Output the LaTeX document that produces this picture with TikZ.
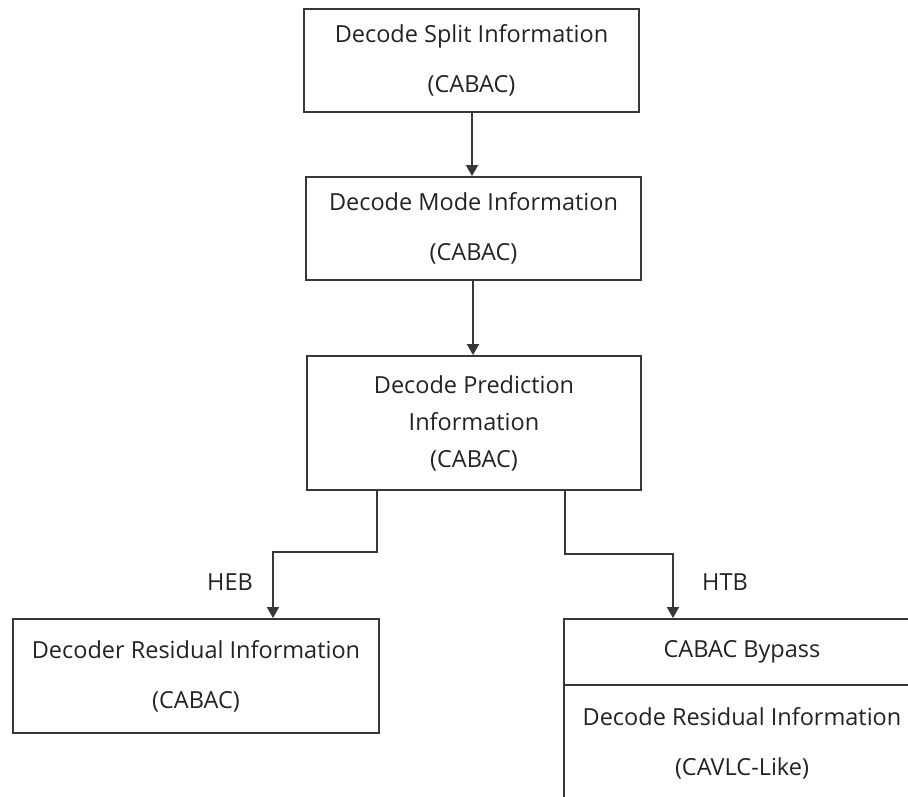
\documentclass[tikz,border=0pt]{standalone}
\usepackage{fontspec}
\setmainfont{Open Sans}
\usetikzlibrary{arrows.meta}
\definecolor{lncol}{RGB}{55,55,55}
\definecolor{txcol}{RGB}{35,35,35}
\tikzset{
  box/.style={draw=lncol, line width=1.8pt, rectangle, inner sep=0pt, align=center, text=txcol,
    font=\fontsize{23.5}{50}\selectfont},
  lbl/.style={inner sep=0pt, text=txcol, font=\fontsize{23.5}{28}\selectfont},
  arr/.style={draw=lncol, line width=1.8pt, -{Triangle[length=11pt,width=12pt]}},
  conn/.style={draw=lncol, line width=1.8pt}
}
\begin{document}
\begin{tikzpicture}[x=1pt,y=-1pt]
\useasboundingbox (0,0) rectangle (908,796);
\fill[white] (0,0) rectangle (908,796);
\clip (0,0) rectangle (908,796);

\node[box, minimum width=335pt, minimum height=103pt] (b1) at (471.5,60.5) {Decode Split Information\\(CABAC)};
\node[box, minimum width=335pt, minimum height=103pt] (b2) at (473.5,228.5) {Decode Mode Information\\(CABAC)};
\node[box, minimum width=334pt, minimum height=134pt, font=\fontsize{23.5}{37}\selectfont] (b3) at (474,423) {Decode Prediction\\Information\\(CABAC)};
\node[box, minimum width=366pt, minimum height=114pt] (b4) at (196,676) {Decoder Residual Information\\(CABAC)};
\node[box, minimum width=356pt, minimum height=66pt] (b5a) at (742,652) {CABAC Bypass};
\node[box, minimum width=356pt, minimum height=116pt] (b5b) at (742,743) {Decode Residual Information\\(CAVLC-Like)};

\node[lbl] (heb) at (230,582) {HEB};
\node[lbl] (htb) at (725,582) {HTB};

\coordinate (c12) at (472,0);
\coordinate (c23) at (473,0);
\coordinate (lx1) at (377,552);
\coordinate (lx2) at (273,552);
\coordinate (rx1) at (565,554);
\coordinate (rx2) at (673,554);

\draw[arr] (b1.south -| c12) -- (b2.north -| c12);
\draw[arr] (b2.south -| c23) -- (b3.north -| c23);
\draw[arr] (b3.south -| lx1) -- (lx1) -- (lx2) -- (b4.north -| lx2);
\draw[arr] (b3.south -| rx1) -- (rx1) -- (rx2) -- (b5a.north -| rx2);
\end{tikzpicture}
\end{document}
